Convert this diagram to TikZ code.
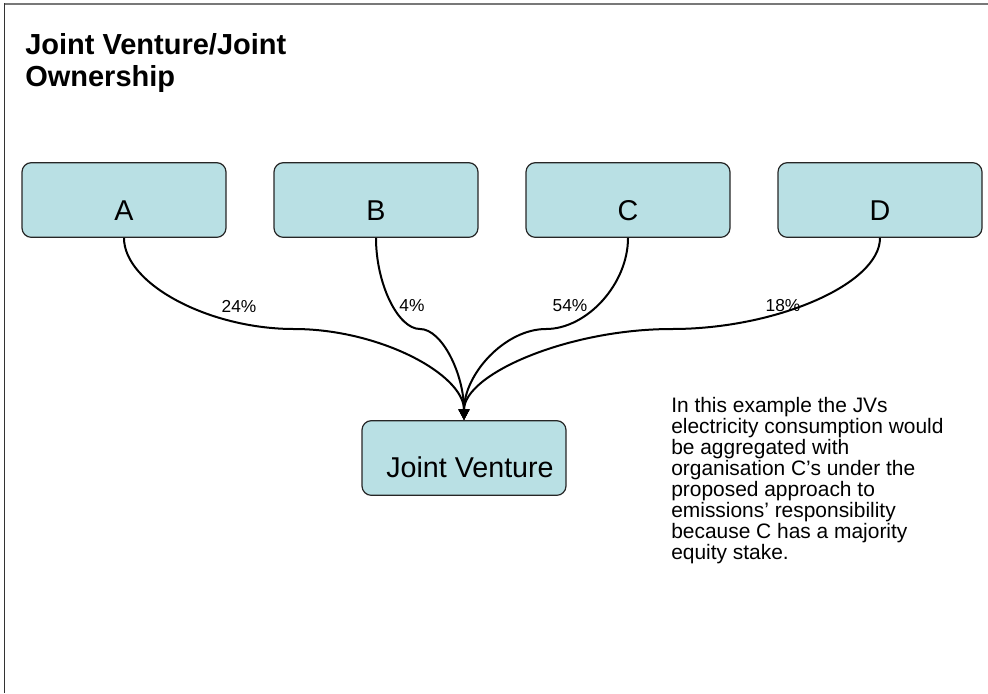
\documentclass[tikz,border=0pt]{standalone}
\usepackage{fontspec}
\setmainfont{Liberation Sans}
\usepackage{tikz}
\usetikzlibrary{calc,positioning,arrows.meta}
\definecolor{boxfill}{RGB}{185,224,228}
\definecolor{framegray}{RGB}{120,120,120}
\tikzset{
  entity/.style={
    shape = rectangle,
    rounded corners = 7pt,
    draw = black!85,
    line width = 0.9pt,
    fill = boxfill,
    minimum width = 153pt,
    minimum height = 56pt,
    inner sep = 0pt,
    font = \fontsize{21.5}{24}\selectfont,
    text height = 30pt,
    text depth = 0pt
  },
  venture/.style={
    entity,
    text height = 28.5pt
  },
  link/.style={
    line width = 1.5pt,
    -{Triangle[width=8pt,length=8pt]}
  },
  share/.style={
    font = \fontsize{13}{15}\selectfont,
    inner sep = 0pt
  },
  heading/.style={
    anchor = north west,
    align = left,
    inner sep = 0pt,
    font = \bfseries\fontsize{21.75}{24.25}\selectfont
  },
  remark/.style={
    anchor = north west,
    align = left,
    inner sep = 0pt,
    font = \fontsize{15.7}{15.8}\selectfont
  }
}

\begin{document}
\begin{tikzpicture}[x=0.75pt,y=-0.75pt]
        \useasboundingbox (0,0) rectangle (988,693);

        % slide frame
        \draw[framegray, line width=1.5pt] (4,3.5) -- (988,3.5);
        \draw[black!80, line width=0.8pt] (4.5,3) -- (4.5,693);

        \node[heading] (title) at (25,33) {Joint Venture/Joint\\Ownership};

        % owners
        \node[entity] (A) at (124,200) {A};
        \node[entity] (B) at (376,200) {B};
        \node[entity] (C) at (628,200) {C};
        \node[entity] (D) at (880,200) {D};

        \node[venture] (JV) at (464,458) {\hspace{9pt}Joint Venture};

        \coordinate (mA) at ($(A.south)!0.5!(JV.north)$);
        \coordinate (mB) at ($(B.south)!0.5!(JV.north)$);
        \coordinate (mC) at ($(C.south)!0.5!(JV.north)$);
        \coordinate (mD) at ($(D.south)!0.5!(JV.north)$);

        \draw[link] (A.south) .. controls +(0,46) and +(-85,0) .. (mA) .. controls +(85,0) and +(0,-46) .. (JV.north);
        \draw[link] (B.south) .. controls +(0,46) and +(-22,0) .. (mB) .. controls +(22,0) and +(0,-46) .. (JV.north);
        \draw[link] (C.south) .. controls +(0,46) and +(41,0) .. (mC) .. controls +(-41,0) and +(0,-46) .. (JV.north);
        \draw[link] (D.south) .. controls +(0,46) and +(104,0) .. (mD) .. controls +(-104,0) and +(0,-46) .. (JV.north);

        \node[share] (pA) at (239,306) {24\%};
        \node[share] (pB) at (412,306) {4\%};
        \node[share] (pC) at (570,306) {54\%};
        \node[share] (pD) at (783,306) {18\%};

        \node[remark] (note) at (671,397) {In this example the JVs\\electricity consumption would\\be aggregated with\\organisation C’s under the\\proposed approach to\\emissions’ responsibility\\because C has a majority\\equity stake.};
\end{tikzpicture}
\end{document}
